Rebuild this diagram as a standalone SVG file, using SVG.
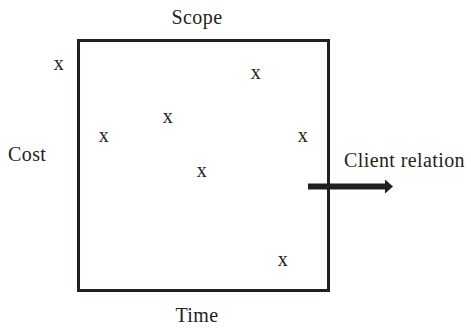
<svg xmlns="http://www.w3.org/2000/svg" width="471" height="328" viewBox="0 0 471 328">
<style>
text{font-family:"Liberation Serif","DejaVu Serif",serif;font-size:20px;fill:#231f20;letter-spacing:0.4px}
.x{text-anchor:middle}
</style>
<rect width="471" height="328" fill="#fff"/>
<g id="box"><rect x="78.5" y="40.5" width="250" height="250" fill="none" stroke="#231f20" stroke-width="3"/></g>
<g id="labels">
<text x="197" y="24" class="x">Scope</text>
<text x="8" y="161">Cost</text>
<text x="197" y="322" class="x">Time</text>
<text x="344" y="167">Client relation</text>
</g>
<g id="marks">
<text x="59" y="70" class="x">x</text>
<text x="256" y="79" class="x">x</text>
<text x="168" y="123" class="x">x</text>
<text x="104" y="142" class="x">x</text>
<text x="303" y="142" class="x">x</text>
<text x="202" y="177" class="x">x</text>
<text x="283" y="266" class="x">x</text>
</g>
<g id="connectors">
<line x1="308" y1="186.5" x2="386" y2="186.5" stroke="#231f20" stroke-width="6"/>
<path d="M385,179.5 L393,186.5 L385,193.5 Z" fill="#231f20"/>
</g>
</svg>
